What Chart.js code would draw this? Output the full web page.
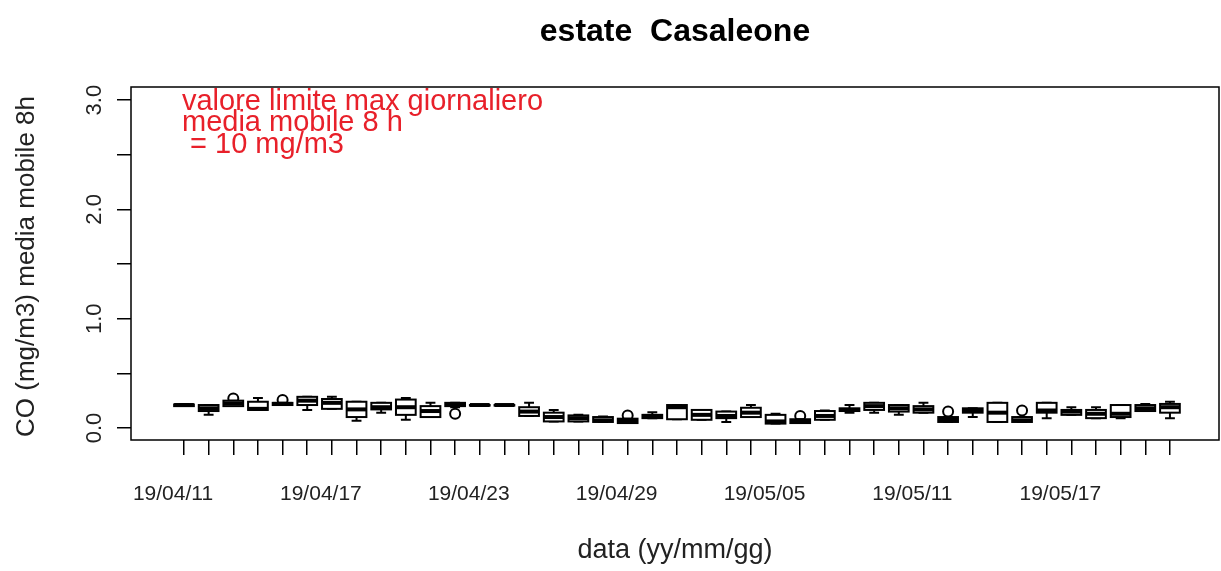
<!DOCTYPE html>
<html>
<head>
<meta charset="utf-8">
<script src="https://cdn.jsdelivr.net/npm/chart.js@4/dist/chart.umd.min.js"></script>
<style>
html,body{margin:0;padding:0;background:#fff;}
#wrap{width:1221px;height:571px;position:relative;}
</style>
</head>
<body>
<div id="wrap"><canvas id="c" width="1221" height="571"></canvas></div>
<script>
// ---- data ----
const dates = [
 "19/04/11","19/04/12","19/04/13","19/04/14","19/04/15","19/04/16","19/04/17","19/04/18","19/04/19","19/04/20",
 "19/04/21","19/04/22","19/04/23","19/04/24","19/04/25","19/04/26","19/04/27","19/04/28","19/04/29","19/04/30",
 "19/05/01","19/05/02","19/05/03","19/05/04","19/05/05","19/05/06","19/05/07","19/05/08","19/05/09","19/05/10",
 "19/05/11","19/05/12","19/05/13","19/05/14","19/05/15","19/05/16","19/05/17","19/05/18","19/05/19","19/05/20",
 "19/05/21"
];
const whiskerLow = [0.20,0.12,0.20,0.165,0.21,0.165,0.175,0.065,0.14,0.075,0.10,0.19,0.205,0.205,0.11,0.06,0.06,0.055,0.045,0.09,
 0.08,0.075,0.055,0.10,0.04,0.045,0.075,0.14,0.14,0.12,0.14,0.055,0.10,0.055,0.055,0.09,0.12,0.09,0.09,0.155,0.09];
const q1 = [0.20,0.155,0.20,0.165,0.21,0.21,0.175,0.10,0.17,0.12,0.10,0.20,0.205,0.205,0.11,0.06,0.06,0.055,0.045,0.09,
 0.08,0.075,0.09,0.10,0.04,0.045,0.075,0.155,0.165,0.15,0.14,0.055,0.14,0.055,0.055,0.14,0.12,0.09,0.10,0.155,0.14];
const median = [0.21,0.18,0.225,0.175,0.22,0.25,0.23,0.17,0.19,0.19,0.155,0.21,0.21,0.21,0.15,0.10,0.09,0.07,0.065,0.11,
 0.19,0.12,0.11,0.14,0.06,0.06,0.11,0.165,0.20,0.18,0.17,0.08,0.16,0.14,0.07,0.16,0.15,0.13,0.13,0.18,0.19];
const q3 = [0.215,0.21,0.25,0.24,0.23,0.285,0.265,0.24,0.23,0.26,0.20,0.23,0.21,0.21,0.19,0.14,0.115,0.10,0.085,0.12,
 0.21,0.165,0.15,0.185,0.12,0.08,0.155,0.18,0.23,0.21,0.20,0.10,0.18,0.23,0.10,0.23,0.165,0.165,0.21,0.21,0.22];
const whiskerHigh = [0.22,0.21,0.25,0.275,0.23,0.285,0.285,0.24,0.23,0.275,0.23,0.23,0.21,0.21,0.23,0.165,0.12,0.105,0.085,0.145,
 0.21,0.165,0.15,0.21,0.13,0.08,0.16,0.21,0.23,0.21,0.23,0.10,0.18,0.23,0.10,0.23,0.19,0.19,0.21,0.22,0.24];
const outlierDay = [3, 5, 12, 19, 26, 32, 35];
const outlierValue = [0.27, 0.255, 0.13, 0.115, 0.11, 0.15, 0.16];
const yTickValues = [0, 0.5, 1, 1.5, 2, 2.5, 3];
const yTickLabels = ["0.0", "", "1.0", "", "2.0", "", "3.0"];
const noteLines = ["valore limite max giornaliero", "media mobile 8 h", " = 10 mg/m3"];
const noteY = [2.98, 2.79, 2.59];
const titleText = "estate  Casaleone";
const xTitle = "data (yy/mm/gg)";
const yTitle = "CO (mg/m3) media mobile 8h";

const FONT = "'Liberation Sans', Arial, Helvetica, sans-serif";

const outlierPoints = outlierDay.map((d, i) => ({x: d, y: outlierValue[i]}));

const boxPlugin = {
  id: 'boxDraw',
  afterDatasetsDraw(chart) {
    const ctx = chart.ctx, xs = chart.scales.x, ys = chart.scales.y;
    const half = (xs.getPixelForValue(1.4) - xs.getPixelForValue(1));
    const stap = half / 2;
    ctx.save();
    ctx.strokeStyle = '#000';
    for (let i = 0; i < dates.length; i++) {
      const cx = xs.getPixelForValue(i + 1);
      const yLo = ys.getPixelForValue(whiskerLow[i]);
      const yQ1 = ys.getPixelForValue(q1[i]);
      const yMed = ys.getPixelForValue(median[i]);
      const yQ3 = ys.getPixelForValue(q3[i]);
      const yHi = ys.getPixelForValue(whiskerHigh[i]);
      ctx.lineWidth = 2;
      ctx.beginPath();
      ctx.moveTo(cx, yQ1); ctx.lineTo(cx, yLo);
      ctx.moveTo(cx - stap, yLo); ctx.lineTo(cx + stap, yLo);
      ctx.moveTo(cx, yQ3); ctx.lineTo(cx, yHi);
      ctx.moveTo(cx - stap, yHi); ctx.lineTo(cx + stap, yHi);
      ctx.stroke();
      ctx.fillStyle = '#fff';
      ctx.fillRect(cx - half, yQ3, 2 * half, yQ1 - yQ3);
      ctx.strokeRect(cx - half, yQ3, 2 * half, yQ1 - yQ3);
      ctx.lineWidth = 4;
      ctx.beginPath();
      ctx.moveTo(cx - half, yMed); ctx.lineTo(cx + half, yMed);
      ctx.stroke();
    }
    ctx.restore();
  },
  afterDraw(chart) {
    const ctx = chart.ctx, xs = chart.scales.x, ys = chart.scales.y, a = chart.chartArea;
    ctx.save();
    // frame
    ctx.strokeStyle = '#000';
    ctx.lineWidth = 1.5;
    ctx.strokeRect(a.left, a.top, a.right - a.left, a.bottom - a.top);
    const cxMid = (a.left + a.right) / 2, cyMid = (a.top + a.bottom) / 2;
    // title
    ctx.fillStyle = '#000';
    ctx.textAlign = 'center';
    ctx.textBaseline = 'middle';
    ctx.font = 'bold 32px ' + FONT;
    ctx.fillText(titleText, cxMid, 32);
    // x tick labels
    ctx.font = '21px ' + FONT;
    ctx.fillStyle = '#222';
    for (let i = 0; i < dates.length; i += 6) {
      ctx.fillText(dates[i], xs.getPixelForValue(i + 1) - 11, 494);
    }
    // x title
    ctx.font = '27px ' + FONT;
    ctx.fillText(xTitle, cxMid, 551);
    // y tick labels (rotated)
    ctx.font = '22px ' + FONT;
    for (let i = 0; i < yTickValues.length; i++) {
      if (!yTickLabels[i]) continue;
      ctx.save();
      ctx.translate(95, ys.getPixelForValue(yTickValues[i]));
      ctx.rotate(-Math.PI / 2);
      ctx.fillText(yTickLabels[i], 0, 0);
      ctx.restore();
    }
    // y title
    ctx.font = '26px ' + FONT;
    ctx.save();
    ctx.translate(27, cyMid + 3);
    ctx.rotate(-Math.PI / 2);
    ctx.fillText(yTitle, 0, 0);
    ctx.restore();
    // note text in red
    ctx.fillStyle = '#e8202a';
    ctx.textAlign = 'left';
    ctx.font = '29px ' + FONT;
    for (let i = 0; i < noteLines.length; i++) {
      ctx.fillText(noteLines[i], xs.getPixelForValue(1) - 2, ys.getPixelForValue(noteY[i]));
    }
    ctx.restore();
  }
};

new Chart(document.getElementById('c'), {
  type: 'scatter',
  data: {
    datasets: [{
      data: outlierPoints,
      pointStyle: 'circle',
      pointRadius: 5,
      pointBorderWidth: 2,
      pointBackgroundColor: 'rgba(0,0,0,0)',
      pointBorderColor: '#000',
      showLine: false
    }]
  },
  options: {
    responsive: false,
    animation: false,
    devicePixelRatio: 1,
    layout: {autoPadding: false, padding: {top: 87, right: 2, left: 0, bottom: 0}},
    plugins: {legend: {display: false}, tooltip: {enabled: false}, title: {display: false}},
    scales: {
      x: {
        type: 'linear',
        min: -1.15,
        max: 42.99,
        afterBuildTicks(scale) { scale.ticks = dates.map((d, i) => ({value: i + 1})); },
        afterFit(scale) { scale.height = 131; },
        ticks: {display: false},
        border: {display: false},
        grid: {drawOnChartArea: false, drawTicks: true, tickLength: 15, color: '#000', lineWidth: 1.5}
      },
      y: {
        type: 'linear',
        min: -0.11,
        max: 3.12,
        afterBuildTicks(scale) { scale.ticks = yTickValues.map(v => ({value: v})); },
        afterFit(scale) { scale.width = 131; },
        ticks: {display: false},
        border: {display: false},
        grid: {drawOnChartArea: false, drawTicks: true, tickLength: 14, color: '#000', lineWidth: 1.5}
      }
    }
  },
  plugins: [boxPlugin]
});
</script>
</body>
</html>
